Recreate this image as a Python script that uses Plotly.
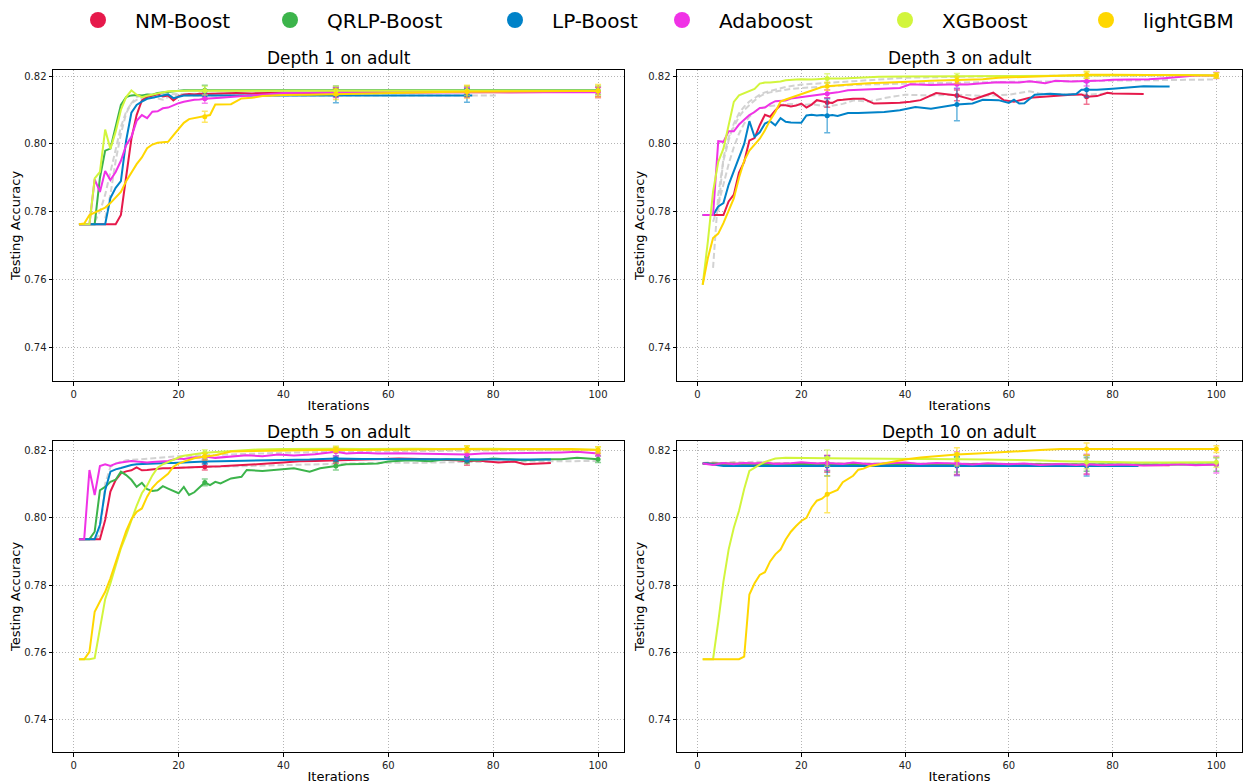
import plotly.graph_objects as go

METHODS = ["NM-Boost", "QRLP-Boost", "LP-Boost", "Adaboost", "XGBoost", "lightGBM"]
COLORS = ["#e6194b", "#3cb44b", "#0082c8", "#f032e6", "#d2f53c", "#ffd700"]
CHECKPOINTS = [25, 50, 75, 100]
EARLY = list(range(1, 26))

# ---------------- Depth 1 ----------------
D1_SPARSE = [28, 31, 34, 37, 40, 45, 50, 55, 60, 65, 70, 75, 80, 85, 90, 95, 100]
D1_NM_X = EARLY + D1_SPARSE
D1_NM_Y = [0.7763, 0.7763, 0.7763, 0.7763, 0.7763, 0.7763, 0.7763, 0.7763, 0.7790, 0.7905, 0.8015, 0.8085,
           0.8128, 0.8138, 0.8141, 0.8146, 0.8140, 0.8143, 0.8128, 0.8140, 0.8145, 0.8147, 0.8146, 0.8148, 0.8147,
           0.8149, 0.8150, 0.8149, 0.8151, 0.8151, 0.8150, 0.8152, 0.8151, 0.8152, 0.8151, 0.8152, 0.8152, 0.8153,
           0.8152, 0.8153, 0.8153, 0.8153]
D1_NM_STD = [0.0012, 0.0013, 0.0013, 0.0013]
D1_QR_X = EARLY + D1_SPARSE
D1_QR_Y = [0.7763, 0.7763, 0.7763, 0.7763, 0.7900, 0.7980, 0.7986, 0.8055, 0.8115, 0.8138, 0.8143, 0.8144,
           0.8143, 0.8146, 0.8145, 0.8150, 0.8152, 0.8154, 0.8156, 0.8157, 0.8158, 0.8158, 0.8157, 0.8158, 0.8158,
           0.8158, 0.8157, 0.8158, 0.8158, 0.8157, 0.8158, 0.8158, 0.8157, 0.8158, 0.8158, 0.8158, 0.8157, 0.8158,
           0.8158, 0.8157, 0.8158, 0.8158]
D1_QR_STD = [0.0015, 0.0013, 0.0012, 0.0012]
D1_LP_X = EARLY + [28, 31, 34, 37, 40, 45, 50, 55, 60, 65, 70, 75, 76]
D1_LP_Y = [0.7763, 0.7763, 0.7763, 0.7763, 0.7763, 0.7763, 0.7840, 0.7870, 0.7890, 0.8010, 0.8092, 0.8115,
           0.8125, 0.8133, 0.8136, 0.8139, 0.8142, 0.8146, 0.8135, 0.8140, 0.8143, 0.8143, 0.8143, 0.8143, 0.8143,
           0.8143, 0.8144, 0.8143, 0.8143, 0.8144, 0.8143, 0.8143, 0.8143, 0.8144, 0.8143, 0.8143, 0.8143, 0.8143]
D1_LP_STD = [0.0011, 0.0022, 0.0020, None]
D1_ADA_X = EARLY + D1_SPARSE
D1_ADA_Y = [0.7763, 0.7763, 0.7763, 0.7895, 0.7858, 0.7920, 0.7893, 0.7917, 0.7950, 0.7996, 0.8021, 0.8068,
            0.8085, 0.8076, 0.8095, 0.8096, 0.8105, 0.8107, 0.8114, 0.8120, 0.8124, 0.8128, 0.8130, 0.8131, 0.8133,
            0.8136, 0.8140, 0.8144, 0.8147, 0.8150, 0.8151, 0.8152, 0.8151, 0.8153, 0.8152, 0.8153, 0.8152, 0.8153,
            0.8152, 0.8153, 0.8152, 0.8152]
D1_ADA_STD = [0.0013, 0.0015, 0.0015, 0.0016]
D1_XGB_X = EARLY + D1_SPARSE
D1_XGB_Y = [0.7763, 0.7763, 0.7763, 0.7898, 0.7917, 0.8042, 0.7985, 0.8036, 0.8100, 0.8138, 0.8158, 0.8145,
            0.8138, 0.8142, 0.8146, 0.8149, 0.8152, 0.8155, 0.8156, 0.8157, 0.8157, 0.8157, 0.8157, 0.8157, 0.8157,
            0.8157, 0.8158, 0.8157, 0.8157, 0.8158, 0.8157, 0.8157, 0.8158, 0.8157, 0.8157, 0.8158, 0.8157, 0.8157,
            0.8158, 0.8157, 0.8157, 0.8157]
D1_XGB_STD = [0.0013, 0.0013, 0.0014, 0.0013]
D1_LGB_X = EARLY + [26, 27, 28, 30, 32, 34, 36, 40, 45, 50, 55, 60, 65, 70, 75, 80, 85, 90, 95, 100]
D1_LGB_Y = [0.7763, 0.7765, 0.7790, 0.7797, 0.7803, 0.7812, 0.7825, 0.7840, 0.7858, 0.7890, 0.7917, 0.7940,
            0.7960, 0.7987, 0.7998, 0.8003, 0.8005, 0.8006, 0.8025, 0.8045, 0.8062, 0.8073, 0.8076, 0.8079, 0.8080,
            0.8085, 0.8116, 0.8116, 0.8117, 0.8134, 0.8136, 0.8141, 0.8144, 0.8145, 0.8147, 0.8148, 0.8150, 0.8151,
            0.8153, 0.8154, 0.8155, 0.8155, 0.8156, 0.8156, 0.8156]
D1_LGB_STD = [0.0016, 0.0016, 0.0019, 0.0019]
D1_G1_X = [4, 5, 6, 7, 8, 9, 10, 11, 12, 13, 14, 15, 16, 17, 18, 19, 20, 22, 25, 30, 40, 50, 60, 70, 81]
D1_G1_Y = [0.7770, 0.7800, 0.7850, 0.7920, 0.7990, 0.8050, 0.8095, 0.8120, 0.8130, 0.8136, 0.8140, 0.8138,
           0.8135, 0.8130, 0.8138, 0.8142, 0.8143, 0.8143, 0.8144, 0.8143, 0.8143, 0.8143, 0.8143, 0.8143, 0.8143]
D1_G2_X = [6, 7, 8, 9, 10, 11, 12, 13, 14, 16, 20, 25, 30]
D1_G2_Y = [0.7780, 0.7850, 0.7950, 0.8030, 0.8090, 0.8120, 0.8138, 0.8143, 0.8145, 0.8146, 0.8147, 0.8148, 0.8148]

# ---------------- Depth 3 ----------------
D3_NM_X = EARLY + [26, 27, 28, 30, 32, 34, 36, 39, 41, 43, 46, 48, 50, 53, 55, 57, 59, 61, 64, 67, 70, 72, 74,
                   75, 77, 79, 80, 83, 86]
D3_NM_Y = [0.7790, 0.7790, 0.7790, 0.7790, 0.7790, 0.7830, 0.7850, 0.7915, 0.7947, 0.8010, 0.8017, 0.8055,
           0.8086, 0.8080, 0.8099, 0.8114, 0.8114, 0.8110, 0.8113, 0.8119, 0.8107, 0.8116, 0.8129, 0.8126, 0.8122,
           0.8121, 0.8129, 0.8130, 0.8133, 0.8133, 0.8119, 0.8120, 0.8121, 0.8124, 0.8129, 0.8150, 0.8146, 0.8143,
           0.8130, 0.8141, 0.8151, 0.8129, 0.8124, 0.8136, 0.8140, 0.8143, 0.8145, 0.8146, 0.8139, 0.8141, 0.8151,
           0.8149, 0.8148, 0.8147]
D3_NM_STD = [0.0014, 0.0016, 0.0022, None]
D3_LP_X = EARLY + [26, 27, 29, 31, 33, 36, 39, 42, 45, 47, 50, 53, 55, 58, 60, 61, 62, 63, 65, 68, 71, 73, 74,
                   75, 77, 80, 83, 86, 89, 91]
D3_LP_Y = [0.7790, 0.7790, 0.7790, 0.7815, 0.7825, 0.7879, 0.7920, 0.7960, 0.8000, 0.8067, 0.8021, 0.8034,
           0.8060, 0.8067, 0.8055, 0.8076, 0.8065, 0.8063, 0.8063, 0.8062, 0.8084, 0.8086, 0.8084, 0.8085, 0.8083,
           0.8085, 0.8082, 0.8091, 0.8091, 0.8092, 0.8094, 0.8099, 0.8109, 0.8104, 0.8109, 0.8116, 0.8119, 0.8130,
           0.8129, 0.8121, 0.8130, 0.8119, 0.8120, 0.8145, 0.8148, 0.8145, 0.8147, 0.8160, 0.8160, 0.8160, 0.8163,
           0.8166, 0.8170, 0.8169, 0.8169]
D3_LP_STD = [0.0050, 0.0048, 0.0022, None]
D3_ADA_X = EARLY + [27, 29, 32, 36, 39, 41, 45, 50, 52, 55, 58, 62, 64, 67, 69, 72, 75, 78, 80, 84, 87, 90, 93,
                    96, 100]
D3_ADA_Y = [0.7790, 0.7790, 0.7790, 0.8008, 0.8006, 0.8037, 0.8037, 0.8057, 0.8072, 0.8085, 0.8094, 0.8106,
            0.8107, 0.8118, 0.8126, 0.8126, 0.8128, 0.8134, 0.8136, 0.8138, 0.8140, 0.8142, 0.8143, 0.8146, 0.8148,
            0.8152, 0.8158, 0.8160, 0.8163, 0.8165, 0.8176, 0.8174, 0.8176, 0.8175, 0.8179, 0.8182, 0.8181, 0.8185,
            0.8179, 0.8186, 0.8184, 0.8185, 0.8187, 0.8189, 0.8190, 0.8191, 0.8194, 0.8199, 0.8202, 0.8202]
D3_ADA_STD = [0.0012, 0.0013, 0.0014, 0.0009]
D3_XGB_X = EARLY + [28, 31, 35, 40, 45, 50, 55, 60, 65, 70, 75, 80, 85, 90, 95, 100]
D3_XGB_Y = [0.7584, 0.7712, 0.7859, 0.7947, 0.7986, 0.8055, 0.8124, 0.8143, 0.8150, 0.8156, 0.8162, 0.8178,
            0.8181, 0.8181, 0.8182, 0.8184, 0.8188, 0.8190, 0.8190, 0.8191, 0.8190, 0.8190, 0.8191, 0.8192, 0.8193,
            0.8193, 0.8196, 0.8198, 0.8199, 0.8199, 0.8199, 0.8200, 0.8200, 0.8201, 0.8201, 0.8202, 0.8203, 0.8203,
            0.8203, 0.8203, 0.8202]
D3_XGB_STD = [0.0014, 0.0009, 0.0009, 0.0008]
D3_LGB_X = EARLY + [27, 30, 33, 36, 39, 42, 45, 50, 55, 58, 62, 65, 70, 75, 80, 85, 90, 95, 100]
D3_LGB_Y = [0.7584, 0.7663, 0.7722, 0.7735, 0.7766, 0.7800, 0.7839, 0.7900, 0.7950, 0.7980, 0.7996, 0.8015,
            0.8040, 0.8070, 0.8094, 0.8125, 0.8131, 0.8136, 0.8143, 0.8147, 0.8151, 0.8156, 0.8163, 0.8168, 0.8170,
            0.8173, 0.8176, 0.8179, 0.8180, 0.8182, 0.8184, 0.8186, 0.8188, 0.8191, 0.8195, 0.8197, 0.8199, 0.8201,
            0.8204, 0.8204, 0.8203, 0.8203, 0.8202, 0.8202]
D3_LGB_STD = [0.0012, 0.0010, 0.0010, 0.0008]
D3_G1_X = [3, 4, 5, 6, 7, 8, 9, 10, 11, 12, 13, 15, 17, 20, 25, 30, 35, 40, 50, 60, 70, 80, 90, 100]
D3_G1_Y = [0.7634, 0.7850, 0.7950, 0.8010, 0.8060, 0.8090, 0.8110, 0.8125, 0.8135, 0.8145, 0.8152, 0.8160,
           0.8168, 0.8175, 0.8181, 0.8185, 0.8190, 0.8195, 0.8198, 0.8200, 0.8201, 0.8201, 0.8201, 0.8201]
D3_G2_X = [4, 5, 6, 7, 8, 9, 10, 11, 12, 13, 14, 16, 18, 20, 25, 30, 35, 40, 45, 50, 55, 60, 65, 70, 75, 80, 85,
           90, 95, 100]
D3_G2_Y = [0.7800, 0.7960, 0.8020, 0.8050, 0.8080, 0.8100, 0.8115, 0.8128, 0.8140, 0.8148, 0.8152, 0.8158,
           0.8162, 0.8165, 0.8170, 0.8174, 0.8176, 0.8178, 0.8180, 0.8181, 0.8182, 0.8183, 0.8184, 0.8185, 0.8186,
           0.8187, 0.8188, 0.8189, 0.8190, 0.8190]
D3_G3_X = [3, 4, 5, 6, 7, 8, 9, 10, 11, 12, 14, 16, 18, 20, 22, 25, 28, 30, 33, 36, 40, 45, 50, 55, 60, 62, 64,
           66, 70, 75, 80]
D3_G3_Y = [0.7770, 0.7820, 0.7880, 0.7940, 0.7990, 0.8030, 0.8060, 0.8080, 0.8095, 0.8105, 0.8112, 0.8116,
           0.8118, 0.8115, 0.8117, 0.8110, 0.8118, 0.8128, 0.8125, 0.8135, 0.8145, 0.8143, 0.8145, 0.8142, 0.8145,
           0.8150, 0.8155, 0.8148, 0.8146, 0.8145, 0.8150]

# ---------------- Depth 5 ----------------
D5_NM_X = EARLY + [28, 31, 34, 37, 40, 43, 46, 50, 54, 58, 62, 66, 70, 73, 75, 77, 79, 81, 84, 86, 89, 91]
D5_NM_Y = [0.7936, 0.7936, 0.7936, 0.7936, 0.7936, 0.7993, 0.8077, 0.8111, 0.8131, 0.8137, 0.8140, 0.8149,
           0.8140, 0.8141, 0.8143, 0.8146, 0.8146, 0.8146, 0.8147, 0.8147, 0.8149, 0.8149, 0.8150, 0.8150, 0.8151,
           0.8152, 0.8154, 0.8157, 0.8160, 0.8163, 0.8167, 0.8168, 0.8170, 0.8172, 0.8175, 0.8175, 0.8174, 0.8172,
           0.8170, 0.8167, 0.8169, 0.8166, 0.8163, 0.8166, 0.8158, 0.8160, 0.8162]
D5_NM_STD = [0.0010, 0.0009, 0.0012, None]
D5_QR_X = EARLY + [26, 27, 28, 30, 32, 33, 36, 39, 42, 45, 47, 50, 52, 55, 58, 60, 64, 68, 71, 75, 77, 80, 83,
                   86, 90, 93, 96, 100]
D5_QR_Y = [0.7936, 0.7936, 0.7936, 0.7958, 0.8081, 0.8091, 0.8106, 0.8112, 0.8136, 0.8126, 0.8112, 0.8091,
           0.8103, 0.8084, 0.8079, 0.8081, 0.8093, 0.8086, 0.8079, 0.8072, 0.8091, 0.8067, 0.8075, 0.8090, 0.8104,
           0.8096, 0.8106, 0.8101, 0.8116, 0.8121, 0.8141, 0.8138, 0.8141, 0.8146, 0.8136, 0.8146, 0.8153, 0.8158,
           0.8159, 0.8160, 0.8166, 0.8170, 0.8167, 0.8173, 0.8170, 0.8170, 0.8175, 0.8173, 0.8170, 0.8173, 0.8173,
           0.8177, 0.8173]
D5_QR_STD = [0.0010, 0.0012, 0.0010, 0.0010]
D5_LP_X = EARLY + [28, 32, 36, 40, 45, 50, 55, 60, 65, 70, 75, 80, 85, 91]
D5_LP_Y = [0.7936, 0.7936, 0.7936, 0.7936, 0.7978, 0.8081, 0.8136, 0.8143, 0.8147, 0.8152, 0.8156, 0.8158,
           0.8159, 0.8159, 0.8159, 0.8160, 0.8162, 0.8162, 0.8162, 0.8163, 0.8164, 0.8164, 0.8165, 0.8165, 0.8166,
           0.8167, 0.8169, 0.8170, 0.8171, 0.8172, 0.8175, 0.8174, 0.8173, 0.8174, 0.8173, 0.8173, 0.8173, 0.8172,
           0.8172]
D5_LP_STD = [0.0008, 0.0008, 0.0008, None]
D5_ADA_X = EARLY + [27, 30, 33, 36, 39, 42, 46, 50, 52, 55, 58, 62, 66, 70, 75, 78, 82, 86, 90, 93, 96, 100]
D5_ADA_Y = [0.7936, 0.7936, 0.8141, 0.8067, 0.8153, 0.8158, 0.8153, 0.8160, 0.8163, 0.8165, 0.8168, 0.8166,
            0.8164, 0.8163, 0.8165, 0.8166, 0.8167, 0.8168, 0.8172, 0.8175, 0.8174, 0.8177, 0.8179, 0.8178, 0.8181,
            0.8177, 0.8181, 0.8185, 0.8182, 0.8187, 0.8184, 0.8188, 0.8195, 0.8190, 0.8192, 0.8190, 0.8191, 0.8190,
            0.8190, 0.8187, 0.8190, 0.8190, 0.8191, 0.8192, 0.8193, 0.8195, 0.8190]
D5_ADA_STD = [0.0010, 0.0012, 0.0013, 0.0008]
D5_XGB_X = EARLY + [28, 31, 35, 40, 45, 50, 55, 60, 65, 70, 75, 80, 85, 90, 95, 100]
D5_XGB_Y = [0.7580, 0.7580, 0.7580, 0.7583, 0.7676, 0.7758, 0.7805, 0.7854, 0.7909, 0.7948, 0.7993, 0.8035,
            0.8072, 0.8095, 0.8125, 0.8148, 0.8158, 0.8165, 0.8172, 0.8178, 0.8183, 0.8186, 0.8188, 0.8190, 0.8192,
            0.8195, 0.8200, 0.8202, 0.8203, 0.8204, 0.8204, 0.8203, 0.8204, 0.8204, 0.8203, 0.8204, 0.8204, 0.8203,
            0.8203, 0.8203, 0.8201]
D5_XGB_STD = [0.0009, 0.0008, 0.0008, 0.0008]
D5_LGB_X = EARLY + [27, 30, 33, 36, 40, 45, 50, 55, 60, 65, 70, 75, 80, 85, 90, 95, 100]
D5_LGB_Y = [0.7580, 0.7580, 0.7602, 0.7721, 0.7751, 0.7780, 0.7820, 0.7864, 0.7914, 0.7960, 0.7995, 0.8017,
            0.8027, 0.8062, 0.8088, 0.8105, 0.8118, 0.8130, 0.8151, 0.8160, 0.8166, 0.8172, 0.8176, 0.8179, 0.8181,
            0.8185, 0.8196, 0.8197, 0.8198, 0.8199, 0.8200, 0.8201, 0.8200, 0.8201, 0.8201, 0.8202, 0.8203, 0.8202,
            0.8203, 0.8204, 0.8203, 0.8200]
D5_LGB_STD = [0.0010, 0.0008, 0.0010, 0.0010]
D5_G1_X = [4, 5, 6, 7, 8, 9, 10, 12, 14, 16, 18, 20, 25, 30, 40, 50, 60, 70, 80, 90, 100]
D5_G1_Y = [0.7936, 0.7950, 0.8100, 0.8150, 0.8160, 0.8165, 0.8170, 0.8172, 0.8175, 0.8178, 0.8180, 0.8182,
           0.8185, 0.8188, 0.8192, 0.8195, 0.8197, 0.8198, 0.8199, 0.8200, 0.8200]
D5_G2_X = [20, 30, 40, 45, 50, 55, 60, 65, 70, 75, 80, 85, 90, 95, 100]
D5_G2_Y = [0.8148, 0.8152, 0.8155, 0.8156, 0.8158, 0.8160, 0.8163, 0.8162, 0.8164, 0.8165, 0.8165, 0.8166,
           0.8167, 0.8167, 0.8168]

# ---------------- Depth 10 ----------------
D10_NM_X = [1, 3, 5, 8, 10, 13, 15, 18, 20, 23, 25, 28, 30, 35, 40, 45, 50, 55, 60, 65, 70, 75, 80, 85, 88, 91]
D10_NM_Y = [0.8160, 0.8160, 0.8159, 0.8160, 0.8161, 0.8160, 0.8160, 0.8161, 0.8160, 0.8160, 0.8159, 0.8160,
            0.8160, 0.8159, 0.8160, 0.8159, 0.8158, 0.8159, 0.8158, 0.8157, 0.8157, 0.8157, 0.8156, 0.8156, 0.8155,
            0.8155]
D10_NM_STD = [0.0025, 0.0030, 0.0028, None]
D10_QR_X = [1, 5, 10, 15, 20, 25, 30, 40, 50, 60, 70, 75, 80, 90, 100]
D10_QR_Y = [0.8160, 0.8159, 0.8159, 0.8158, 0.8158, 0.8158, 0.8158, 0.8157, 0.8157, 0.8157, 0.8157, 0.8157,
            0.8157, 0.8157, 0.8157]
D10_QR_STD = [0.0020, 0.0022, 0.0020, 0.0020]
D10_LP_X = [1, 2, 3, 4, 5, 10, 20, 25, 30, 40, 50, 60, 70, 75, 80, 85]
D10_LP_Y = [0.8160, 0.8160, 0.8157, 0.8154, 0.8153, 0.8153, 0.8153, 0.8153, 0.8153, 0.8153, 0.8153, 0.8153,
            0.8153, 0.8153, 0.8153, 0.8153]
D10_LP_STD = [0.0030, 0.0028, 0.0030, None]
D10_ADA_X = [1, 3, 5, 7, 9, 11, 13, 15, 18, 20, 23, 25, 28, 30, 33, 36, 40, 43, 46, 50, 53, 56, 60, 63, 66, 70,
             73, 75, 78, 82, 86, 90, 93, 96, 100]
D10_ADA_Y = [0.8160, 0.8156, 0.8162, 0.8158, 0.8162, 0.8160, 0.8163, 0.8159, 0.8161, 0.8164, 0.8160, 0.8162,
             0.8159, 0.8163, 0.8158, 0.8161, 0.8163, 0.8159, 0.8162, 0.8160, 0.8157, 0.8161, 0.8158, 0.8160, 0.8156,
             0.8159, 0.8156, 0.8158, 0.8155, 0.8157, 0.8154, 0.8156, 0.8158, 0.8155, 0.8157]
D10_ADA_STD = [0.0022, 0.0035, 0.0030, 0.0025]
D10_XGB_X = list(range(1, 16)) + [17, 20, 25, 30, 35, 40, 45, 50, 55, 60, 65, 70, 75, 80, 85, 90, 95, 100]
D10_XGB_Y = [0.7580, 0.7580, 0.7580, 0.7691, 0.7810, 0.7905, 0.7970, 0.8020, 0.8085, 0.8138, 0.8148, 0.8157,
             0.8165, 0.8171, 0.8175, 0.8177, 0.8176, 0.8176, 0.8175, 0.8175, 0.8175, 0.8174, 0.8173, 0.8172, 0.8172,
             0.8170, 0.8167, 0.8165, 0.8164, 0.8163, 0.8163, 0.8163, 0.8164]
D10_XGB_STD = [0.0024, 0.0020, 0.0020, 0.0015]
D10_LGB_X = list(range(1, 36)) + [37, 40, 43, 46, 50, 54, 58, 62, 66, 70, 75, 80, 85, 90, 95, 100]
D10_LGB_Y = [0.7580, 0.7580, 0.7580, 0.7580, 0.7580, 0.7580, 0.7580, 0.7580, 0.7588, 0.7772, 0.7805, 0.7830,
             0.7838, 0.7870, 0.7891, 0.7905, 0.7935, 0.7958, 0.7975, 0.7990, 0.7999, 0.8030, 0.8050, 0.8056, 0.8069,
             0.8075, 0.8082, 0.8105, 0.8114, 0.8124, 0.8142, 0.8145, 0.8152, 0.8155, 0.8159,
             0.8165, 0.8172, 0.8178, 0.8182, 0.8187, 0.8190, 0.8194, 0.8197, 0.8200, 0.8203, 0.8203, 0.8202, 0.8202,
             0.8203, 0.8203, 0.8203]
D10_LGB_STD = [0.0055, 0.0020, 0.0018, 0.0010]
D10_G1_X = [1, 3, 5, 7, 9, 11, 13, 15, 20, 25, 30, 40, 50, 60, 70, 80, 90, 100]
D10_G1_Y = [0.8162, 0.8164, 0.8161, 0.8165, 0.8163, 0.8166, 0.8164, 0.8162, 0.8162, 0.8161, 0.8161, 0.8160,
            0.8160, 0.8159, 0.8159, 0.8158, 0.8158, 0.8158]

PANELS = [
    {"title": "Depth 1 on adult",
     "series": [(D1_NM_X, D1_NM_Y, D1_NM_STD), (D1_QR_X, D1_QR_Y, D1_QR_STD), (D1_LP_X, D1_LP_Y, D1_LP_STD),
                (D1_ADA_X, D1_ADA_Y, D1_ADA_STD), (D1_XGB_X, D1_XGB_Y, D1_XGB_STD), (D1_LGB_X, D1_LGB_Y, D1_LGB_STD)],
     "gray": [(D1_G1_X, D1_G1_Y), (D1_G2_X, D1_G2_Y)]},
    {"title": "Depth 3 on adult",
     "series": [(D3_NM_X, D3_NM_Y, D3_NM_STD), None, (D3_LP_X, D3_LP_Y, D3_LP_STD),
                (D3_ADA_X, D3_ADA_Y, D3_ADA_STD), (D3_XGB_X, D3_XGB_Y, D3_XGB_STD), (D3_LGB_X, D3_LGB_Y, D3_LGB_STD)],
     "gray": [(D3_G1_X, D3_G1_Y), (D3_G2_X, D3_G2_Y), (D3_G3_X, D3_G3_Y)]},
    {"title": "Depth 5 on adult",
     "series": [(D5_NM_X, D5_NM_Y, D5_NM_STD), (D5_QR_X, D5_QR_Y, D5_QR_STD), (D5_LP_X, D5_LP_Y, D5_LP_STD),
                (D5_ADA_X, D5_ADA_Y, D5_ADA_STD), (D5_XGB_X, D5_XGB_Y, D5_XGB_STD), (D5_LGB_X, D5_LGB_Y, D5_LGB_STD)],
     "gray": [(D5_G1_X, D5_G1_Y), (D5_G2_X, D5_G2_Y)]},
    {"title": "Depth 10 on adult",
     "series": [(D10_NM_X, D10_NM_Y, D10_NM_STD), (D10_QR_X, D10_QR_Y, D10_QR_STD), (D10_LP_X, D10_LP_Y, D10_LP_STD),
                (D10_ADA_X, D10_ADA_Y, D10_ADA_STD), (D10_XGB_X, D10_XGB_Y, D10_XGB_STD),
                (D10_LGB_X, D10_LGB_Y, D10_LGB_STD)],
     "gray": [(D10_G1_X, D10_G1_Y)]},
]

W, H = 1243, 784
X_DOMAINS = [[53 / W, 624 / W], [677 / W, 1242 / W], [53 / W, 624 / W], [677 / W, 1242 / W]]
Y_DOMAINS = [[1 - 381 / H, 1 - 70 / H], [1 - 381 / H, 1 - 70 / H], [1 - 752 / H, 1 - 441 / H], [1 - 752 / H, 1 - 441 / H]]
Y_RANGES = [[0.7300, 0.8218], [0.7300, 0.8218], [0.7305, 0.8227], [0.7305, 0.8227]]


def rgba(hexc, a):
    h = hexc.lstrip("#")
    return "rgba(%d,%d,%d,%.2f)" % (int(h[0:2], 16), int(h[2:4], 16), int(h[4:6], 16), a)


fig = go.Figure()
for p, panel in enumerate(PANELS):
    sfx = "" if p == 0 else str(p + 1)
    xa, ya = "x" + sfx, "y" + sfx
    for gx, gy in panel["gray"]:
        fig.add_trace(go.Scatter(x=gx, y=gy, mode="lines", xaxis=xa, yaxis=ya, showlegend=False,
                                 line=dict(color="rgba(205,205,205,0.9)", width=2, dash="6px,3px"),
                                 hoverinfo="skip"))
    for m, s in enumerate(panel["series"]):
        if s is None:
            continue
        sx, sy, sstd = s
        fig.add_trace(go.Scatter(x=sx, y=sy, mode="lines", xaxis=xa, yaxis=ya, showlegend=False,
                                 name=METHODS[m], line=dict(color=COLORS[m], width=2)))
        ex, ey, ee = [], [], []
        for c, sd in zip(CHECKPOINTS, sstd):
            if sd is not None and c in sx:
                ex.append(c)
                ey.append(sy[sx.index(c)])
                ee.append(sd)
        fig.add_trace(go.Scatter(x=ex, y=ey, mode="markers", xaxis=xa, yaxis=ya, showlegend=False,
                                 name=METHODS[m], marker=dict(color=COLORS[m], size=5),
                                 error_y=dict(type="data", array=ee, visible=True, color=rgba(COLORS[m], 0.6),
                                              thickness=1.5, width=3)))

# legend entries (one small legend per method so spacing matches the reference)
LEG_CENTERS = [98, 290, 515, 682, 905, 1106]
for m, name in enumerate(METHODS):
    key = "legend" if m == 0 else "legend%d" % (m + 1)
    fig.add_trace(go.Scatter(x=[None], y=[None], mode="markers", name=name, legend=key,
                             marker=dict(color=COLORS[m], size=16, symbol="circle"), showlegend=True))
    fig.update_layout(**{key: dict(x=(LEG_CENTERS[m] - 37) / W, y=1 - 20 / H, xanchor="left", yanchor="middle",
                                   orientation="h", itemwidth=64, font=dict(size=20, color="black"),
                                   bgcolor="rgba(0,0,0,0)", borderwidth=0)})

GRID = dict(showgrid=True, gridcolor="#b4b4b4", griddash="1px,2px", gridwidth=1)
layout = dict(width=W, height=H, margin=dict(l=0, r=0, t=0, b=0), plot_bgcolor="white", paper_bgcolor="white",
              font=dict(family="DejaVu Sans", color="black"))
for p in range(4):
    sfx = "" if p == 0 else str(p + 1)
    layout["xaxis" + sfx] = dict(domain=X_DOMAINS[p], anchor="y" + sfx, range=[-3.95, 104.95],
                                 tickvals=[0, 20, 40, 60, 80, 100], showline=True, linecolor="black", linewidth=1,
                                 mirror=True, ticks="outside", ticklen=3.5, tickcolor="black", zeroline=False,
                                 tickfont=dict(size=10, color="#222"), automargin=False,
                                 title=dict(text="Iterations", font=dict(size=13), standoff=2), **GRID)
    layout["yaxis" + sfx] = dict(domain=Y_DOMAINS[p], anchor="x" + sfx, range=Y_RANGES[p],
                                 tickvals=[0.74, 0.76, 0.78, 0.80, 0.82], tickformat=".2f", showline=True,
                                 linecolor="black", linewidth=1, mirror=True, ticks="outside", ticklen=3.5,
                                 tickcolor="black", zeroline=False, tickfont=dict(size=10, color="#222"),
                                 automargin=False,
                                 title=dict(text="Testing Accuracy", font=dict(size=13), standoff=0), **GRID)
fig.update_layout(**layout)

for p, panel in enumerate(PANELS):
    cx = (X_DOMAINS[p][0] + X_DOMAINS[p][1]) / 2
    ty = 1 - (58 if p < 2 else 432) / H
    fig.add_annotation(text=panel["title"], x=cx, y=ty, xref="paper", yref="paper", xanchor="center",
                       yanchor="middle", showarrow=False, font=dict(size=17, color="black"))

fig.write_html("out.html")
